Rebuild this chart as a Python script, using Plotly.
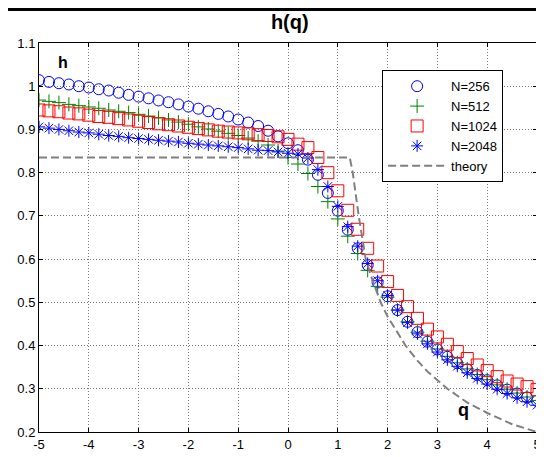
import plotly.graph_objects as go

q = [-5.0, -4.8, -4.6, -4.4, -4.2, -4.0, -3.8, -3.6, -3.4, -3.2, -3.0, -2.8, -2.6, -2.4, -2.2,
     -2.0, -1.8, -1.6, -1.4, -1.2, -1.0, -0.8, -0.6, -0.4, -0.2, 0.0, 0.2, 0.4, 0.6, 0.8,
     1.0, 1.2, 1.4, 1.6, 1.8, 2.0, 2.2, 2.4, 2.6, 2.8, 3.0, 3.2, 3.4, 3.6, 3.8, 4.0, 4.2,
     4.4, 4.6, 4.8, 5.0]

h_256 = [1.014, 1.010, 1.007, 1.004, 1.000, 0.997, 0.993, 0.990, 0.985, 0.980, 0.976, 0.972,
         0.967, 0.963, 0.958, 0.953, 0.948, 0.942, 0.936, 0.930, 0.923, 0.916, 0.908, 0.897,
         0.884, 0.868, 0.852, 0.830, 0.795, 0.753, 0.712, 0.668, 0.625, 0.586, 0.546, 0.514,
         0.482, 0.455, 0.431, 0.409, 0.391, 0.374, 0.359, 0.345, 0.332, 0.320, 0.308, 0.298,
         0.289, 0.280, 0.272]

h_512 = [0.968, 0.965, 0.962, 0.958, 0.955, 0.952, 0.949, 0.945, 0.942, 0.939, 0.935, 0.931,
         0.927, 0.922, 0.917, 0.912, 0.906, 0.901, 0.896, 0.891, 0.886, 0.880, 0.873, 0.864,
         0.850, 0.835, 0.820, 0.798, 0.768, 0.733, 0.693, 0.653, 0.613, 0.574, 0.537, 0.512,
         0.482, 0.455, 0.431, 0.410, 0.392, 0.375, 0.360, 0.346, 0.333, 0.321, 0.309, 0.299,
         0.290, 0.281, 0.273]

h_1024 = [0.945, 0.943, 0.941, 0.938, 0.936, 0.933, 0.930, 0.928, 0.925, 0.922, 0.919, 0.916,
          0.913, 0.911, 0.908, 0.905, 0.902, 0.899, 0.896, 0.894, 0.892, 0.890, 0.888, 0.886,
          0.883, 0.877, 0.866, 0.858, 0.835, 0.800, 0.758, 0.713, 0.669, 0.625, 0.584, 0.548,
          0.516, 0.490, 0.463, 0.438, 0.420, 0.403, 0.386, 0.370, 0.355, 0.342, 0.328, 0.318,
          0.311, 0.305, 0.298]

h_2048 = [0.906, 0.903, 0.900, 0.897, 0.894, 0.892, 0.889, 0.886, 0.884, 0.881, 0.879, 0.877,
          0.875, 0.873, 0.871, 0.868, 0.866, 0.864, 0.862, 0.860, 0.858, 0.855, 0.852, 0.851,
          0.848, 0.845, 0.843, 0.834, 0.807, 0.768, 0.722, 0.675, 0.630, 0.590, 0.550, 0.516,
          0.482, 0.453, 0.427, 0.404, 0.385, 0.367, 0.352, 0.337, 0.324, 0.311, 0.299, 0.289,
          0.279, 0.270, 0.262]

q_theory = [-5.0, 1.24, 1.30, 1.42, 1.56, 1.70, 1.86, 2.0, 2.2, 2.36, 2.6, 2.8, 3.2, 3.6, 4.0, 4.5, 5.0]
h_theory = [0.835, 0.835, 0.800, 0.700, 0.600, 0.550, 0.500, 0.467, 0.430, 0.400, 0.365, 0.340,
            0.300, 0.268, 0.244, 0.218, 0.200]

x_ticks = [-5, -4, -3, -2, -1, 0, 1, 2, 3, 4, 5]
x_tick_text = ["-5", "-4", "-3", "-2", "-1", "0", "1", "2", "3", "4", "5"]
y_ticks = [0.2, 0.3, 0.4, 0.5, 0.6, 0.7, 0.8, 0.9, 1.0, 1.1]
y_tick_text = ["0.2", "0.3", "0.4", "0.5", "0.6", "0.7", "0.8", "0.9", "1", "1.1"]

FONT = "Liberation Sans, Arial, sans-serif"

fig = go.Figure()
fig.add_trace(go.Scatter(x=q, y=h_256, mode="markers", name="N=256",
                         marker=dict(symbol="circle-open", size=11, color="#0000FF",
                                     line=dict(width=1, color="#0000FF"))))
fig.add_trace(go.Scatter(x=q, y=h_512, mode="markers", name="N=512",
                         marker=dict(symbol="cross-thin-open", size=10, color="#008000",
                                     line=dict(width=1, color="#008000"))))
fig.add_trace(go.Scatter(x=q, y=h_1024, mode="markers", name="N=1024",
                         marker=dict(symbol="square-open", size=12, color="#FF0000",
                                     line=dict(width=1, color="#FF0000"))))
fig.add_trace(go.Scatter(x=q, y=h_2048, mode="markers", name="N=2048",
                         marker=dict(symbol="asterisk-open", size=10, color="#0000FF",
                                     line=dict(width=1, color="#0000FF"))))
fig.add_trace(go.Scatter(x=q_theory, y=h_theory, mode="lines", name="theory",
                         line=dict(color="#808080", width=2, dash="8px,4px")))

axis_common = dict(showline=True, linecolor="black", linewidth=1, mirror="ticks",
                   ticks="inside", ticklen=4, tickcolor="black", automargin=False,
                   showgrid=True, gridcolor="#7a7a7a", griddash="1px,2px", gridwidth=1,
                   zeroline=False, tickfont=dict(family=FONT, size=13, color="black"))

fig.update_xaxes(range=[-5, 5], tickvals=x_ticks, ticktext=x_tick_text, **axis_common)
fig.update_yaxes(range=[0.2, 1.1], tickvals=y_ticks, ticktext=y_tick_text, **axis_common)

# page body has an 8px margin: margins below are chosen so the plot area lands at
# x 39..537, y 43..432 in the 544x457 window
fig.update_layout(
    width=544, height=457,
    margin=dict(l=31, r=15, t=35, b=33),
    paper_bgcolor="white", plot_bgcolor="white",
    font=dict(family=FONT, color="black"),
    title=dict(text="<b>h(q)</b>", x=0.518, xanchor="center", y=0.969, yanchor="middle",
               font=dict(size=20, family=FONT, color="black")),
    legend=dict(x=0.689, y=0.93, xanchor="left", yanchor="top",
                bgcolor="white", bordercolor="black", borderwidth=1,
                font=dict(size=13, family=FONT, color="black"),
                itemwidth=58, tracegroupgap=0),
    showlegend=True,
    shapes=[dict(type="rect", xref="paper", yref="paper", x0=-0.1, x1=1.1,
                 y0=1.0823, y1=1.1, fillcolor="black", line=dict(width=0), layer="above")],
    annotations=[
        dict(text="<b>h</b>", x=0.034, y=0.977, xref="paper", yref="paper", showarrow=False,
             font=dict(size=16, family=FONT, color="black")),
        dict(text="<b>q</b>", x=0.867, y=0.026, xref="paper", yref="paper", showarrow=False,
             font=dict(size=18, family=FONT, color="black")),
    ],
)

fig.write_html("out.html")
